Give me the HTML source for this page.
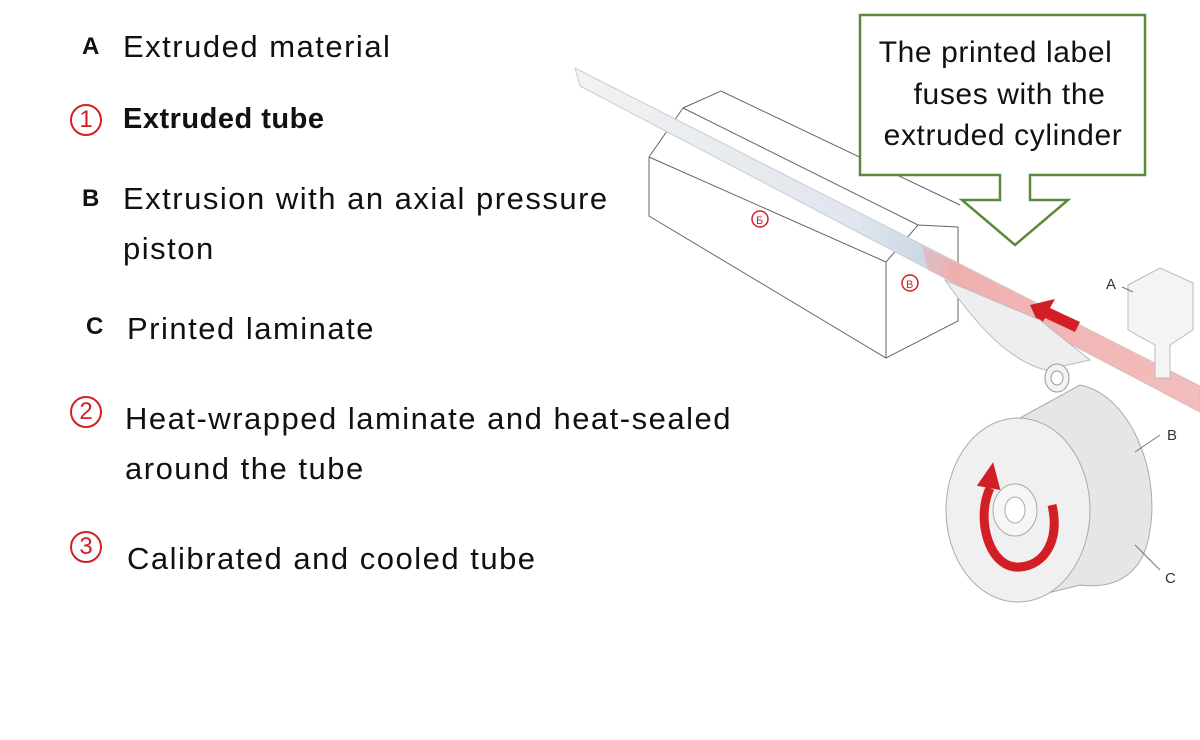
<!DOCTYPE html>
<html><head><style>
body{margin:0;width:1200px;height:740px;background:#fff;overflow:hidden;position:relative;font-family:"Liberation Sans",sans-serif;}
.t{position:absolute;font-size:31px;letter-spacing:1.5px;color:#111;white-space:nowrap;}
.l{position:absolute;font-size:24px;font-weight:bold;color:#111;}
.c{position:absolute;width:28px;height:28px;border:2.5px solid #d21f26;border-radius:50%;color:#d21f26;font-size:24px;text-align:center;line-height:28px;}
</style></head><body>
<svg width="1200" height="740" style="position:absolute;left:0;top:0">
<defs>
<linearGradient id="tg" x1="0" y1="0" x2="1" y2="0">
<stop offset="0" stop-color="#f2f2f2"/><stop offset="0.45" stop-color="#dfe6ef"/><stop offset="0.58" stop-color="#c8d4e4"/><stop offset="0.6" stop-color="#f0b8b8"/><stop offset="1" stop-color="#f4c4c4" stop-opacity="0.6"/>
</linearGradient>
</defs>
<g stroke="#666" stroke-width="1" fill="none">
<polyline points="683,108 721,91 960,205"/>
<line x1="683" y1="108" x2="918" y2="225"/>
<polyline points="683,108 649,157 649,216 886,358 958,321 958,227 918,225 886,262 649,157"/>
<line x1="886" y1="262" x2="886" y2="358"/>
</g>
<polygon points="575,68 580,86 1200,412 1200,386" fill="url(#tg)" stroke="#ccc" stroke-width="1"/>
<polygon points="922,246 1200,386 1200,412 928,270" fill="#f0a8a8" opacity="0.6"/>
<polygon points="1030,305 1055,299 1050,308 1080,322 1075,332 1045,318 1040,327" fill="#d21f26"/>
<path d="M945,280 C980,330 1010,360 1045,370 L1090,360 L1040,320 Z" fill="#eee" stroke="#bbb"/>
<ellipse cx="1057" cy="378" rx="12" ry="14" fill="#f4f4f4" stroke="#999"/>
<ellipse cx="1057" cy="378" rx="6" ry="7" fill="#fff" stroke="#999"/>
<path d="M1020,418 L1080,385 C1130,395 1160,470 1150,530 C1145,570 1120,590 1080,585 L1020,600 Z" fill="#e6e6e6" stroke="#aaa"/>
<ellipse cx="1018" cy="510" rx="72" ry="92" fill="#f0f0f0" stroke="#aaa"/>
<ellipse cx="1015" cy="510" rx="22" ry="26" fill="#f6f6f6" stroke="#aaa"/>
<ellipse cx="1015" cy="510" rx="10" ry="13" fill="#fff" stroke="#aaa"/>
<path d="M990,488 C975,520 990,570 1020,567 C1045,565 1060,540 1052,505" fill="none" stroke="#d21f26" stroke-width="9"/>
<polygon points="978,488 1002,488 990,462" fill="#d21f26" transform="rotate(10 990 480)"/>
<g stroke="#bbb" fill="#f4f4f4">
<polygon points="1128,285 1160,268 1193,283 1193,330 1170,345 1170,378 1155,378 1155,345 1128,330"/>
</g>
<g stroke="#777" stroke-width="1" fill="none">
<line x1="1122" y1="287" x2="1133" y2="292"/>
<line x1="1135" y1="452" x2="1160" y2="435"/>
<line x1="1135" y1="545" x2="1160" y2="570"/>
</g>
<text x="1106" y="289" font-size="15" fill="#333" font-family="Liberation Sans">A</text>
<text x="1167" y="440" font-size="15" fill="#333" font-family="Liberation Sans">B</text>
<text x="1165" y="583" font-size="15" fill="#333" font-family="Liberation Sans">C</text>
<circle cx="760" cy="219" r="8" fill="none" stroke="#d21f26" stroke-width="1.5"/>
<text x="756" y="224" font-size="11" fill="#d21f26" font-family="Liberation Sans">Б</text>
<circle cx="910" cy="283" r="8" fill="none" stroke="#d21f26" stroke-width="1.5"/>
<text x="906" y="288" font-size="11" fill="#d21f26" font-family="Liberation Sans">B</text>
<path d="M860,15 L1145,15 L1145,175 L1030,175 L1030,200 L1068,200 L1015,245 L962,200 L1000,200 L1000,175 L860,175 Z" fill="#fff" stroke="#5a8a3a" stroke-width="2.5"/>
<text font-size="30" letter-spacing="0.6" fill="#111" font-family="Liberation Sans" text-anchor="middle">
<tspan x="1000" y="62">The printed label</tspan>
<tspan x="1014" y="104">fuses with the</tspan>
<tspan x="1003" y="145">extruded cylinder</tspan>
</text>
</svg>
<div class="l" style="left:82px;top:33px">A</div>
<div class="t" style="left:123px;top:29px">Extruded material</div>
<div class="c" style="left:70px;top:104px">1</div>
<div class="t" style="left:123px;top:103px;font-weight:bold;font-size:29px;letter-spacing:0.5px">Extruded tube</div>
<div class="l" style="left:82px;top:185px">B</div>
<div class="t" style="left:123px;top:181px">Extrusion with an axial pressure</div>
<div class="t" style="left:123px;top:231px">piston</div>
<div class="l" style="left:86px;top:313px">C</div>
<div class="t" style="left:127px;top:311px">Printed laminate</div>
<div class="c" style="left:70px;top:396px">2</div>
<div class="t" style="left:125px;top:401px">Heat-wrapped laminate and heat-sealed</div>
<div class="t" style="left:125px;top:451px">around the tube</div>
<div class="c" style="left:70px;top:531px">3</div>
<div class="t" style="left:127px;top:541px">Calibrated and cooled tube</div>
</body></html>
